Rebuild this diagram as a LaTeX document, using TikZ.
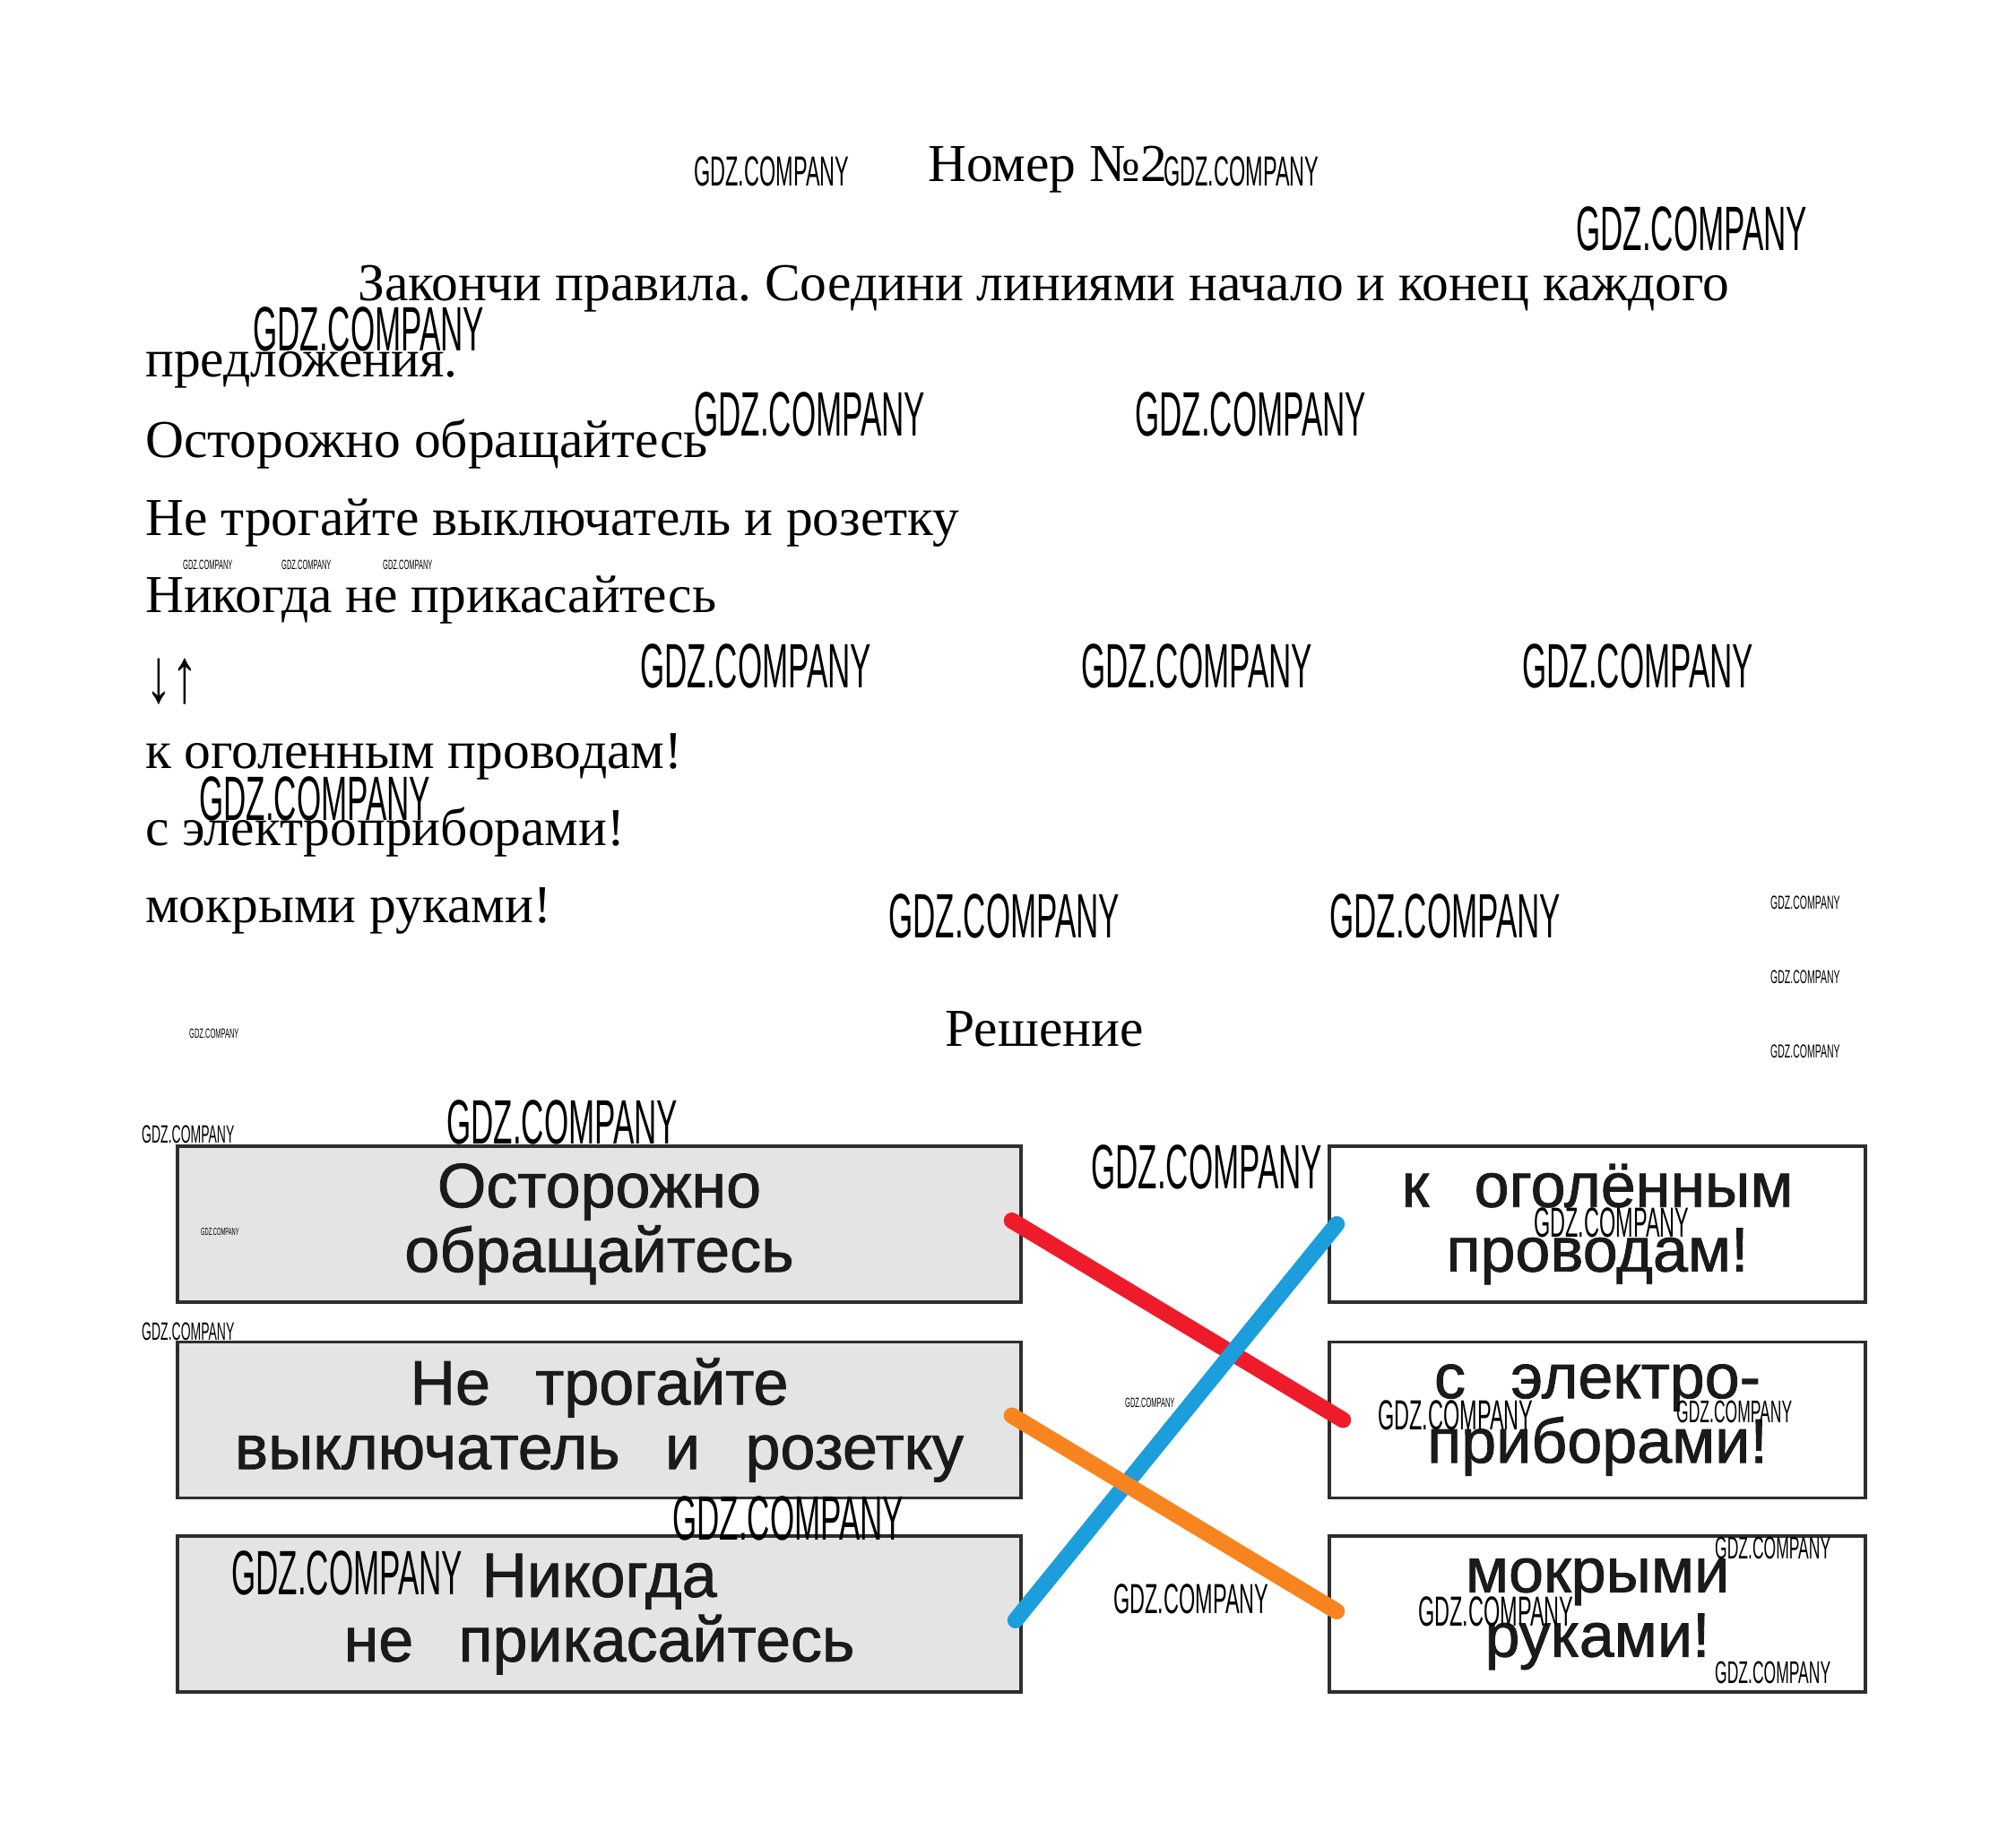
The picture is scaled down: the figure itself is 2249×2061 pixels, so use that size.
\documentclass[tikz,border=0pt]{standalone}
\usepackage{fontspec}
\setmainfont{Liberation Serif}
\newfontfamily\boxfont[FakeBold=1.2]{Liberation Sans}
\newfontfamily\wmfont[FakeStretch=0.5]{Liberation Sans}
\usetikzlibrary{calc}
\definecolor{redline}{HTML}{EE1C2A}
\definecolor{blueline}{HTML}{1C9EDC}
\definecolor{orangeline}{HTML}{F7841E}
\definecolor{boxgray}{HTML}{E4E4E4}
\definecolor{boxedge}{HTML}{2E2E2E}
\definecolor{boxtext}{HTML}{1A1A1A}
\newcommand{\wsp}{\hspace{0.72em}\ignorespaces}
\frenchspacing
\begin{document}
\begin{tikzpicture}[x=1pt,y=-1pt,
  txt/.style={anchor=base west, inner sep=0pt, font=\fontsize{59.5}{70}\selectfont},
  ctxt/.style={anchor=base, inner sep=0pt, font=\fontsize{59.5}{70}\selectfont},
  wm/.style={anchor=west, inner sep=0pt, font=\wmfont\fontsize{#1}{#1}\selectfont},
  card/.style={draw=boxedge, line width=3.5pt, minimum height=174pt, inner sep=0pt,
     align=center, text=boxtext, font=\boxfont\fontsize{70}{72}\selectfont},
  lcard/.style={card, fill=boxgray, minimum width=941pt},
  rcard/.style={card, fill=white, minimum width=598pt},
  link/.style={line width=18pt, line cap=round}
]
\fill[white] (0,0) rectangle (2249,2061);
\useasboundingbox (0,0) rectangle (2249,2061);

% task text
\node[txt] (title) at (1035,202) {Номер №2};
\node[txt] (t1) at (399,335) {Закончи правила. Соедини линиями начало и конец каждого};
\node[txt] (t2) at (162,420) {предложения.};
\node[txt] (a1) at (162,510) {Осторожно обращайтесь};
\node[txt] (a2) at (162,597) {Не трогайте выключатель и розетку};
\node[txt] (a3) at (162,683) {Никогда не прикасайтесь};
\node[txt] (arr) at (162,783) {\scalebox{1}[1.45]{↓↑}};
\node[txt] (b1) at (162,857) {к оголенным проводам!};
\node[txt] (b2) at (162,943) {с электроприборами!};
\node[txt] (b3) at (162,1029) {мокрыми руками!};
\node[ctxt] (sol) at (1165,1167) {Решение};

% cards
\node[lcard] (L1) at (668.5,1366) {Осторожно\\обращайтесь};
\node[lcard] (L2) at (668.5,1584.5) {Не\wsp трогайте\\выключатель\wsp и\wsp розетку};
\node[lcard] (L3) at (668.5,1801) {Никогда\\не\wsp прикасайтесь};
\node[rcard] (R1) at (1782,1366) {к\wsp оголённым\\проводам!};
\node[rcard] (R2) at (1782,1584.5) {с\wsp электро-\\приборами!};
\node[rcard] (R3) at (1782,1801) {мокрыми\\руками!};

% connectors
\draw[link, redline] ([xshift=-12pt,yshift=4pt]L1.east) -- ([xshift=17pt]R2.west);
\draw[link, blueline] ([xshift=-8pt,yshift=-7pt]L3.east) -- ([xshift=10pt]R1.west);
\draw[link, orangeline] ([xshift=-12pt,yshift=5pt]L2.east) -- ([xshift=10pt,yshift=3pt]R3.west);

% watermarks
\node[wm=47] (w1) at (774,191) {GDZ.COMPANY};
\node[wm=47] (w2) at (1298,191) {GDZ.COMPANY};
\node[wm=70] (w3) at (1758,255) {GDZ.COMPANY};
\node[wm=70] (w4) at (282,367) {GDZ.COMPANY};
\node[wm=70] (w5) at (774,462) {GDZ.COMPANY};
\node[wm=70] (w6) at (1266,462) {GDZ.COMPANY};
\node[wm=15] (w7) at (204,630) {GDZ.COMPANY};
\node[wm=15] (w8) at (314,630) {GDZ.COMPANY};
\node[wm=15] (w9) at (427,630) {GDZ.COMPANY};
\node[wm=70] (w10) at (714,743) {GDZ.COMPANY};
\node[wm=70] (w11) at (1206,743) {GDZ.COMPANY};
\node[wm=70] (w12) at (1698,743) {GDZ.COMPANY};
\node[wm=70] (w13) at (222,891) {GDZ.COMPANY};
\node[wm=70] (w14) at (991,1022) {GDZ.COMPANY};
\node[wm=70] (w15) at (1483,1022) {GDZ.COMPANY};
\node[wm=21] (w16) at (1975,1007) {GDZ.COMPANY};
\node[wm=21] (w17) at (1975,1090) {GDZ.COMPANY};
\node[wm=21] (w18) at (1975,1173) {GDZ.COMPANY};
\node[wm=15] (w19) at (211,1153) {GDZ.COMPANY};
\node[wm=70] (w20) at (498,1252) {GDZ.COMPANY};
\node[wm=28] (w21) at (158,1266) {GDZ.COMPANY};
\node[wm=70] (w22) at (1217,1302) {GDZ.COMPANY};
\node[wm=11.5] (w23) at (224,1375) {GDZ.COMPANY};
\node[wm=28] (w24) at (158,1486) {GDZ.COMPANY};
\node[wm=47] (w25) at (1711,1364) {GDZ.COMPANY};
\node[wm=15] (w26) at (1255,1565) {GDZ.COMPANY};
\node[wm=47] (w27) at (1537,1579) {GDZ.COMPANY};
\node[wm=35] (w28) at (1870,1575) {GDZ.COMPANY};
\node[wm=70] (w29) at (750,1694) {GDZ.COMPANY};
\node[wm=70] (w30) at (258,1755) {GDZ.COMPANY};
\node[wm=47] (w31) at (1242,1784) {GDZ.COMPANY};
\node[wm=35] (w32) at (1913,1727) {GDZ.COMPANY};
\node[wm=47] (w33) at (1582,1798) {GDZ.COMPANY};
\node[wm=35] (w34) at (1913,1866) {GDZ.COMPANY};
\end{tikzpicture}
\end{document}
